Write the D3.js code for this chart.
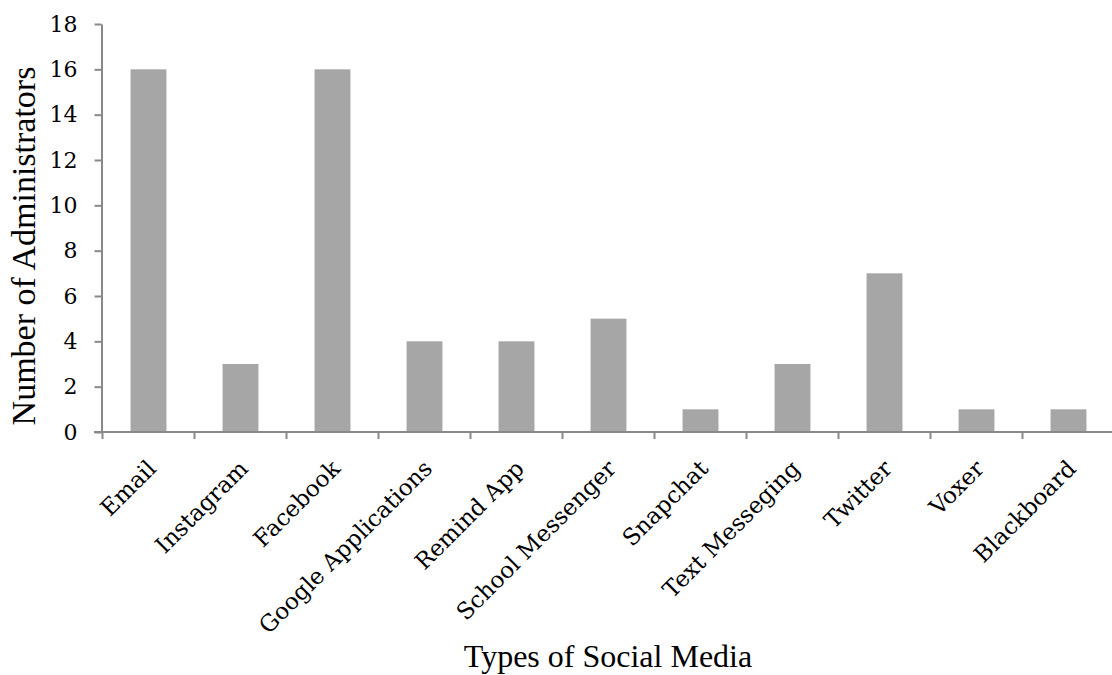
<!DOCTYPE html>
<html>
<head>
<meta charset="utf-8">
<script src="https://cdn.jsdelivr.net/npm/d3@7"></script>
<style>
  body { margin: 0; background: #fff; }
  svg { display: block; }
</style>
</head>
<body>
<div id="chart"></div>
<script>
// chart data
const categories = ["Email", "Instagram", "Facebook", "Google Applications", "Remind App",
    "School Messenger", "Snapchat", "Text Messeging", "Twitter", "Voxer", "Blackboard"];
const counts = [16, 3, 16, 4, 4, 5, 1, 3, 7, 1, 1];
const yTicks = [0, 2, 4, 6, 8, 10, 12, 14, 16, 18];

const width = 1112, height = 675;
const axisColor = "#898989";
const barColor = "#a6a6a6";

const svg = d3.select("#chart")
    .append("svg")
    .attr("width", width)
    .attr("height", height);

// scales
const x = d3.scaleBand()
    .domain(categories)
    .range([102.5, 1114.5])
    .paddingInner(0.61)
    .paddingOuter(0.305);

const y = d3.scaleLinear()
    .domain([0, 18])
    .range([432, 24]);

// bars
svg.selectAll("rect.bar")
    .data(categories)
    .enter()
    .append("rect")
    .attr("class", "bar")
    .attr("x", d => x(d))
    .attr("y", (d, i) => y(counts[i]))
    .attr("width", x.bandwidth())
    .attr("height", (d, i) => y(0) - y(counts[i]))
    .attr("fill", barColor);

// y axis
const yAxis = svg.append("g")
    .attr("transform", "translate(101.5,0)")
    .call(d3.axisLeft(y).tickValues(yTicks).tickSize(7).tickSizeOuter(0).tickPadding(17));

yAxis.select(".domain").attr("stroke", axisColor).attr("stroke-width", 2);
yAxis.selectAll(".tick line").attr("stroke", axisColor).attr("stroke-width", 2);
yAxis.selectAll(".tick text")
    .attr("fill", "#000")
    .style("font-family", "'DejaVu Serif', serif")
    .style("font-size", "22px");

// x axis line and band boundary ticks
const step = x.step();
const gap = step - x.bandwidth();
const boundaries = categories.map(d => x(d) - gap / 2);

svg.append("line")
    .attr("x1", 94).attr("x2", width)
    .attr("y1", y(0)).attr("y2", y(0))
    .attr("stroke", axisColor)
    .attr("stroke-width", 2);

svg.selectAll("line.xtick")
    .data(boundaries)
    .enter()
    .append("line")
    .attr("class", "xtick")
    .attr("x1", d => d).attr("x2", d => d)
    .attr("y1", y(0)).attr("y2", y(0) + 7)
    .attr("stroke", axisColor)
    .attr("stroke-width", 2);

// rotated category labels
svg.selectAll("text.xlabel")
    .data(categories)
    .enter()
    .append("text")
    .attr("class", "xlabel")
    .attr("text-anchor", "end")
    .attr("transform", d => `translate(${x(d) + x.bandwidth() / 2 + 9},470) rotate(-45)`)
    .style("font-family", "'DejaVu Serif', serif")
    .style("font-size", "23px")
    .text(d => d);

// axis titles
svg.append("text")
    .attr("text-anchor", "middle")
    .attr("transform", "translate(35,246) rotate(-90)")
    .style("font-family", "'Liberation Serif', 'Times New Roman', serif")
    .style("font-size", "34px")
    .text("Number of Administrators");

svg.append("text")
    .attr("text-anchor", "middle")
    .attr("x", 608)
    .attr("y", 667)
    .style("font-family", "'Liberation Serif', 'Times New Roman', serif")
    .style("font-size", "32px")
    .text("Types of Social Media");
</script>
</body>
</html>
